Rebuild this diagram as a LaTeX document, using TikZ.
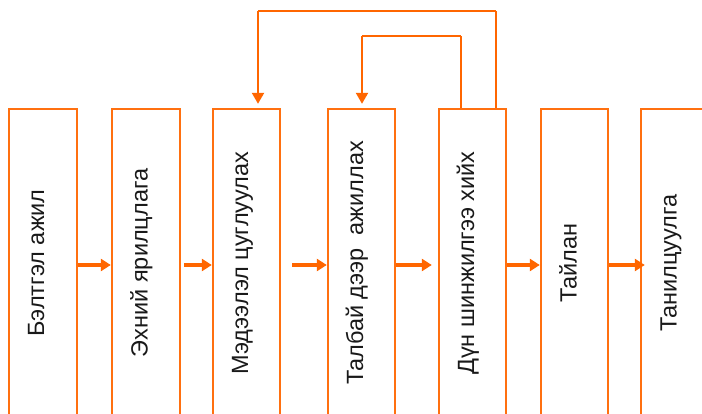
\documentclass[tikz,border=0pt]{standalone}
\usepackage{fontspec}
\setmainfont{Liberation Sans}
\usetikzlibrary{arrows.meta}
\definecolor{boxorange}{RGB}{255,112,16}
\definecolor{arrorange}{RGB}{255,102,0}
\tikzset{
  stagebox/.style={draw=boxorange, line width=2.4pt, fill=white, minimum width=67pt, minimum height=312pt, inner sep=0pt},
  stagetext/.style={rotate=90, anchor=base, inner sep=0pt, font=\fontsize{23.5}{27}\selectfont, text=black!90},
  flow/.style={draw=arrorange, line width=3.5pt, -{Triangle[length=10pt,width=12pt]}},
  back/.style={draw=arrorange, line width=2.2pt},
  backthin/.style={draw=arrorange, line width=1.1pt},
  backarrow/.style={draw=arrorange, line width=2.2pt, -{Triangle[length=11pt,width=12pt]}}
}
\begin{document}
\begin{tikzpicture}[x=1pt,y=-1pt]
\useasboundingbox (0,0) rectangle (702,414);
\clip (0,0) rectangle (702,414);
\fill[white] (0,0) rectangle (702,414);
% boxes
\node[stagebox, minimum width=68pt] (b1) at (43,265) {};
\node[stagebox, minimum width=68pt] (b2) at (146,265) {};
\node[stagebox] (b3) at (246.5,265) {};
\node[stagebox] (b4) at (361.5,265) {};
\node[stagebox] (b5) at (472.5,265) {};
\node[stagebox] (b6) at (574.5,265) {};
\node[stagebox] (b7) at (674.5,265) {};
% texts
\node[stagetext] (t1) at (44,263) {Бэлтгэл ажил};
\node[stagetext] (t2) at (147.5,263) {Эхний ярилцлага};
\node[stagetext] (t3) at (248,263) {Мэдээлэл цуглуулах};
\node[stagetext] (t4) at (363,263) {Талбай дээр\ \ ажиллах};
\node[stagetext] (t5) at (474,263) {Дүн шинжилгээ хийх};
\node[stagetext] (t6) at (576.5,263) {Тайлан};
\node[stagetext] (t7) at (676.5,263) {Танилцуулга};
% forward arrows
\draw[flow] (b1.east) -- (b2.west);
\draw[flow, shorten <=3pt] (b2.east) -- (b3.west);
\draw[flow, shorten <=11pt] (b3.east) -- (b4.west);
\draw[flow, shorten >=6pt] (b4.east) -- (b5.west);
\draw[flow] (b5.east) -- (b6.west);
\draw[flow, shorten >=-5pt] (b6.east) -- (b7.west);
% feedback loops
\coordinate (c1) at (496,11);
\coordinate (c2) at (258,11);
\coordinate (c3) at (461,36);
\coordinate (c4) at (362,36);
\draw[back] (b5.north -| c1) -- (c1);
\draw[backthin] (c1) -- (c2);
\draw[backarrow, shorten >=4pt] (c2) -- (c2 |- b3.north);
\draw[backthin] (b5.north -| c3) -- (c3);
\draw[back] (c3) -- (c4);
\draw[backarrow, shorten >=4pt] (c4) -- (c4 |- b4.north);
\end{tikzpicture}
\end{document}
